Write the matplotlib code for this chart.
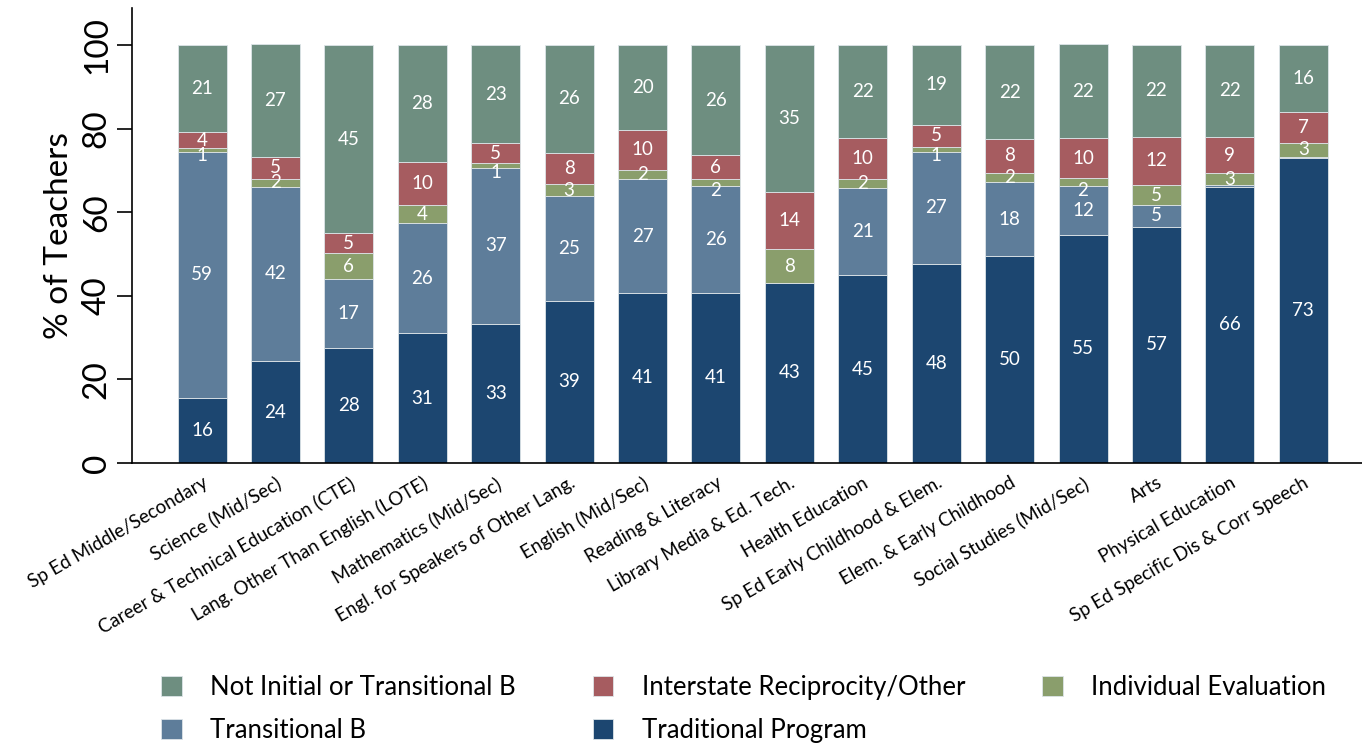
import numpy as np
import matplotlib.pyplot as plt

plt.rcParams['font.family'] = ['Lato', 'DejaVu Sans']

categories = ['Sp Ed Middle/Secondary', 'Science (Mid/Sec)', 'Career & Technical Education (CTE)',
              'Lang. Other Than English (LOTE)', 'Mathematics (Mid/Sec)', 'Engl. for Speakers of Other Lang.',
              'English (Mid/Sec)', 'Reading & Literacy', 'Library Media & Ed. Tech.', 'Health Education',
              'Sp Ed Early Childhood & Elem.', 'Elem. & Early Childhood', 'Social Studies (Mid/Sec)',
              'Arts', 'Physical Education', 'Sp Ed Specific Dis & Corr Speech']

traditional = [15.6, 24.4, 27.5, 31.1, 33.3, 38.8, 40.7, 40.7, 43.1, 45.0, 47.6, 49.5, 54.6, 56.6, 66.1, 72.9]
transitional_b = [58.9, 41.7, 16.6, 26.3, 37.3, 25.1, 27.2, 25.6, 0.0, 20.8, 26.9, 17.8, 11.7, 5.1, 0.4, 0.4]
indiv_eval = [0.9, 2.0, 6.1, 4.4, 1.2, 2.8, 2.2, 1.6, 8.1, 2.1, 1.1, 2.2, 1.9, 4.8, 2.8, 3.3]
interstate = [3.8, 5.2, 4.8, 10.3, 4.8, 7.6, 9.7, 5.8, 13.6, 10.0, 5.4, 8.0, 9.6, 11.6, 8.8, 7.4]
not_initial = [20.8, 27.0, 45.0, 27.9, 23.4, 25.7, 20.2, 26.3, 35.2, 22.1, 19.0, 22.5, 22.4, 21.9, 21.9, 16.0]

series = [
    ('Traditional Program', traditional, '#1c4670'),
    ('Transitional B', transitional_b, '#5e7d9a'),
    ('Individual Evaluation', indiv_eval, '#8a9e6c'),
    ('Interstate Reciprocity/Other', interstate, '#a65c60'),
    ('Not Initial or Transitional B', not_initial, '#6e8e80'),
]

fig = plt.figure(figsize=(13.62, 7.45), dpi=100)
ax = fig.add_axes([0.0969, 0.3785, 0.9031, 0.6107])

x = np.arange(len(categories))
bottom = np.zeros(len(categories))
handles = {}
for name, vals, col in series:
    vals = np.array(vals)
    bars = ax.bar(x, vals, 0.667, bottom=bottom, color=col, edgecolor='#dde4e8', linewidth=0.6, label=name)
    handles[name] = bars
    for xi, b, v in zip(x, bottom, vals):
        if round(v) >= 1:
            # tiny slices: label sits a bit lower, like the original
            yy = b + v / 2 if v >= 2 else b - 1.0
            ax.text(xi, yy, f'{round(v):d}', ha='center', va='center', color='white', fontsize=13.5)
    bottom += vals

ax.set_xlim(-0.954, 15.8)
ax.set_ylim(0, 108.9)
ax.set_yticks([0, 20, 40, 60, 80, 100])
ax.tick_params(axis='y', labelrotation=90, labelsize=24, length=11, width=1.2, direction='out')
for lab in ax.get_yticklabels():
    lab.set_va('center')
ax.set_ylabel('% of Teachers', fontsize=24, labelpad=6)
ax.set_xticks(x)
ax.set_xticklabels(categories, rotation=30, ha='right', rotation_mode='anchor', fontsize=13.5)
ax.tick_params(axis='x', length=0, pad=8)
for s in ['top', 'right']:
    ax.spines[s].set_visible(False)
for s in ['left', 'bottom']:
    ax.spines[s].set_linewidth(1.2)

order = ['Not Initial or Transitional B', 'Transitional B', 'Interstate Reciprocity/Other',
         'Traditional Program', 'Individual Evaluation']
fig.legend([handles[n] for n in order], order, loc='center', bbox_to_anchor=(0.546, 0.048), ncol=3,
           frameon=False, fontsize=18.5, handlelength=0.8, handleheight=0.8, columnspacing=3.0,
           handletextpad=1.1, labelspacing=0.7)

fig.savefig('out.png', dpi=100)
